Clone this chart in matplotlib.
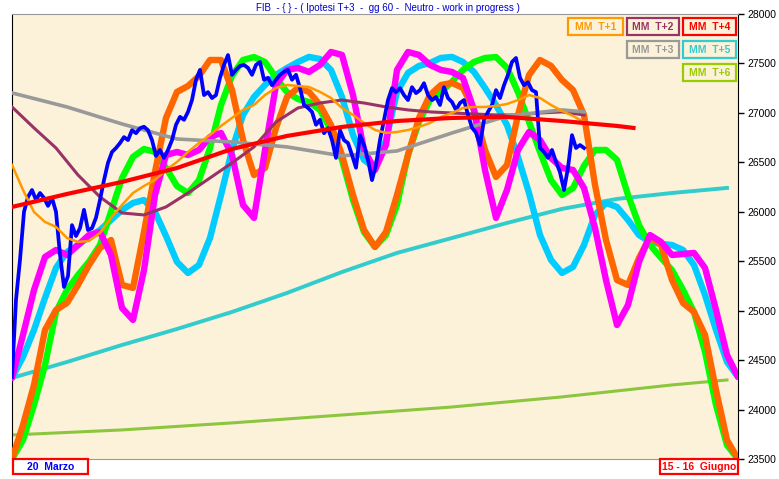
import numpy as np
import matplotlib
matplotlib.use("Agg")
import matplotlib.pyplot as plt
from matplotlib.patches import Rectangle

plt.rcParams['font.family'] = ['Liberation Sans', 'DejaVu Sans']

# ---- dati (prezzi FIB) ----
# curve cicliche, una lettura ogni passo di griglia (67 punti)
ciclo_verde = [23500, 23693, 24047, 24451, 24987, 25210, 25360, 25495, 25665, 26000,
               26340, 26555, 26635, 26605, 26445, 26260, 26190, 26320, 26645, 27080,
               27375, 27535, 27565, 27515, 27355, 27210, 27140, 27110, 27030, 26825,
               26525, 26120, 25795, 25645, 25765, 26070, 26575, 26910, 27130, 27210,
               27315, 27435, 27515, 27555, 27565, 27455, 27210, 26910, 26605, 26320,
               26170, 26240, 26465, 26625, 26625, 26525, 26170, 25865, 25665, 25535,
               25410, 25210, 24985, 24585, 24045, 23640, 23500]
ciclo_arancio = [23500, 23844, 24249, 24805, 25007, 25078, 25260, 25462, 25634, 25715,
                 25260, 25230, 25796, 26403, 26949, 27212, 27272, 27374, 27535, 27535,
                 27232, 26726, 26372, 26443, 26848, 27161, 27252, 27212, 27080, 26878,
                 26574, 26170, 25816, 25644, 25796, 26170, 26574, 26949, 27181, 27282,
                 27303, 27252, 27030, 26625, 26352, 26473, 26979, 27383, 27535, 27475,
                 27333, 27232, 26979, 26271, 25715, 25310, 25260, 25533, 25745, 25664,
                 25310, 25078, 24987, 24755, 24198, 23692, 23500]
ciclo_magenta = [24320, 24754, 25209, 25543, 25614, 25563, 25664, 25765, 25796, 25563,
                 25027, 24906, 25411, 26170, 26574, 26605, 26574, 26625, 26757, 26797,
                 26574, 26069, 25938, 26625, 27282, 27434, 27454, 27414, 27485, 27616,
                 27586, 27181, 26625, 26423, 26676, 27434, 27616, 27586, 27485, 27434,
                 27414, 27353, 27030, 26423, 25938, 26221, 26625, 26807, 26726, 26544,
                 26443, 26423, 26241, 25836, 25310, 24855, 25057, 25493, 25765, 25695,
                 25563, 25573, 25584, 25432, 25007, 24552, 24330]
ciclo_azzurro = [24320, 24532, 24805, 25129, 25432, 25594, 25664, 25745, 25816, 25917,
                 26018, 26089, 26119, 25998, 25755, 25493, 25381, 25462, 25735, 26170,
                 26625, 26979, 27161, 27282, 27384, 27454, 27515, 27566, 27545, 27434,
                 27161, 26777, 26524, 26443, 26726, 27212, 27404, 27475, 27505, 27556,
                 27566, 27515, 27414, 27252, 27080, 26878, 26554, 26190, 25765, 25513,
                 25381, 25442, 25664, 25968, 26089, 26049, 25917, 25765, 25695, 25675,
                 25664, 25614, 25462, 25159, 24805, 24481, 24330]

# prezzo reale (lettura fitta, passo 4/11 di griglia)
prezzo = [24330, 25110, 25515, 26000, 26150, 26220, 26120, 26190, 26140, 26060,
          26140, 26000, 25565, 25240, 25350, 25865, 25755, 25835, 26020, 25815,
          25835, 25940, 26120, 26320, 26495, 26605, 26645, 26695, 26755, 26725,
          26825, 26795, 26845, 26860, 26825, 26725, 26565, 26625, 26545, 26625,
          26725, 26880, 26960, 26930, 27010, 27130, 27335, 27435, 27180, 27210,
          27150, 27180, 27355, 27485, 27585, 27385, 27435, 27475, 27485, 27455,
          27385, 27485, 27515, 27335, 27355, 27280, 27335, 27385, 27415, 27435,
          27335, 27385, 27250, 27080, 27050, 27010, 26880, 26930, 26795, 26845,
          26725, 26545, 26825, 26725, 26695, 26575, 26445, 26775, 26675, 26525,
          26320, 26475, 26725, 26930, 27130, 27250, 27210, 27250, 27180, 27130,
          27260, 27200, 27230, 27300, 27180, 27130, 27160, 27080, 27260, 27150,
          27110, 27030, 27100, 27130, 26980, 26850, 26800, 26675, 26930, 27010,
          27080, 27230, 27150, 27280, 27385, 27515, 27555, 27355, 27280, 27310,
          27230, 27210, 26645, 26605, 26545, 26625, 26505, 26400, 26220, 26445,
          26775, 26645, 26675, 26645]

# medie mobili
mm_t1 = [26474, 26221, 25998, 25897, 25847, 25735, 25695, 25705, 25786, 25938,
         26069, 26190, 26261, 26322, 26423, 26504, 26605, 26696, 26777, 26868,
         26949, 27030, 27080, 27181, 27252, 27282, 27272, 27262, 27212, 27151,
         27050, 26979, 26898, 26827, 26797, 26807, 26827, 26858, 26898, 26959,
         26999, 27050, 27060, 27060, 27070, 27090, 27130, 27181, 27151, 27080,
         27020, 26969, 26908]
mm_t2 = [27060, 26848, 26645, 26372, 26150, 25988, 25968, 26049, 26190, 26342,
         26494, 26656, 26908, 27050, 27100, 27130, 27100, 27060, 27030, 27010,
         26999, 26989, 26979, 26979, 26999, 27010, 26979]
mm_t3 = [27202, 27060, 26888, 26736, 26706, 26656, 26565, 26615, 26797, 26969,
         27030, 27010]
mm_t4 = [26049, 26180, 26302, 26443, 26635, 26767, 26858, 26918, 26949, 26959,
         26918, 26868, 26848]
mm_t5 = [24320, 24481, 24653, 24815, 24987, 25179, 25391, 25584, 25735, 25887,
         26029, 26130, 26190, 26241]
mm_t6 = [23743, 23794, 23865, 23945, 24026, 24128, 24249, 24299]

# posizioni sulla griglia delle sessioni
x_cicli = np.arange(len(ciclo_verde))
x_prezzo = np.arange(len(prezzo)) * 4 / 11
x_t1 = np.arange(len(mm_t1))
x_t2 = np.arange(len(mm_t2)) * 2
x_t3 = np.append(np.arange(11) * 5, 52)
x_t4 = np.append(np.arange(12) * 5, 56.5)
x_t5 = np.arange(len(mm_t5)) * 5
x_t6 = np.append(np.arange(7) * 10, 65)

titolo = "FIB  - { } - ( Ipotesi T+3  -  gg 60 -  Neutro - work in progress )"
tick_y = list(range(23500, 28001, 500))

W, H = 779, 479
fig = plt.figure(figsize=(W / 100, H / 100), dpi=100)
fig.patch.set_facecolor('white')
ax = fig.add_axes([12 / W, 20 / H, 726 / W, 445 / H])
ax.set_facecolor('#FCF2DA')

ax.plot(x_t5, mm_t5, color='#33CCCC', lw=2.8, zorder=2)
ax.plot(x_t6, mm_t6, color='#8CC63F', lw=2.2, zorder=2)
ax.plot(x_cicli, ciclo_azzurro, color='#00CCFF', lw=4.6, zorder=3, solid_capstyle='round')
ax.plot(x_cicli, ciclo_verde, color='#00FF00', lw=4.6, zorder=3, solid_capstyle='round')
ax.plot(x_cicli, ciclo_arancio, color='#FF6600', lw=4.6, zorder=4, solid_capstyle='round')
ax.plot(x_cicli, ciclo_magenta, color='#FF00FF', lw=4.6, zorder=4, solid_capstyle='round')
ax.plot(x_t2, mm_t2, color='#993366', lw=2.2, zorder=5)
ax.plot(x_t3, mm_t3, color='#999999', lw=2.6, zorder=5)
ax.plot(x_prezzo, prezzo, color='#0000FF', lw=2.7, zorder=6)
ax.plot(x_t1, mm_t1, color='#FF9900', lw=1.8, zorder=7)
ax.plot(x_t4, mm_t4, color='#FF0000', lw=3.0, zorder=7)

ax.set_xlim(0, 66)
ax.set_ylim(23500, 28000)
ax.set_xticks([])
ax.yaxis.tick_right()
ax.set_yticks(tick_y)
ax.tick_params(axis='y', length=4, width=1, labelsize=7.5, pad=3, colors='black')
ax.spines['left'].set_color('black')
ax.spines['right'].set_color('black')
ax.spines['top'].set_color('#999999')
ax.spines['bottom'].set_color('#999999')

fig.text(388 / W, 1 - 8 / H, titolo, ha='center', va='center', fontsize=7, color='#0000CC')


# riquadri legenda e date (coordinate in pixel della figura)
def riquadro(x0, y0, x1, y1, testo, colore, col_bordo=None, fondo='none'):
    col_bordo = col_bordo or colore
    fig.patches.append(Rectangle((x0 / W, 1 - y1 / H), (x1 - x0) / W, (y1 - y0) / H,
                                 transform=fig.transFigure, fill=fondo != 'none',
                                 facecolor=fondo, edgecolor=col_bordo, lw=1.6, zorder=10))
    fig.text((x0 + x1) / 2 / W, 1 - (y0 + y1) / 2 / H, testo, ha='center', va='center',
             fontsize=7.5, fontweight='bold', color=colore, zorder=11)


riquadro(568, 18, 623, 35, "MM  T+1", '#FF9900')
riquadro(627, 18, 679, 35, "MM  T+2", '#993366')
riquadro(683, 18, 736, 35, "MM  T+4", '#FF0000')
riquadro(627, 41, 679, 58, "MM  T+3", '#999999')
riquadro(683, 41, 736, 58, "MM  T+5", '#33CCCC')
riquadro(683, 64, 736, 81, "MM  T+6", '#99CC00')
riquadro(13, 459, 88, 474, "20  Marzo", '#0000FF', '#FF0000', 'white')
riquadro(660, 459, 738, 474, "15 - 16  Giugno", '#FF0000', '#FF0000', 'white')

fig.savefig('out.png', dpi=100)
